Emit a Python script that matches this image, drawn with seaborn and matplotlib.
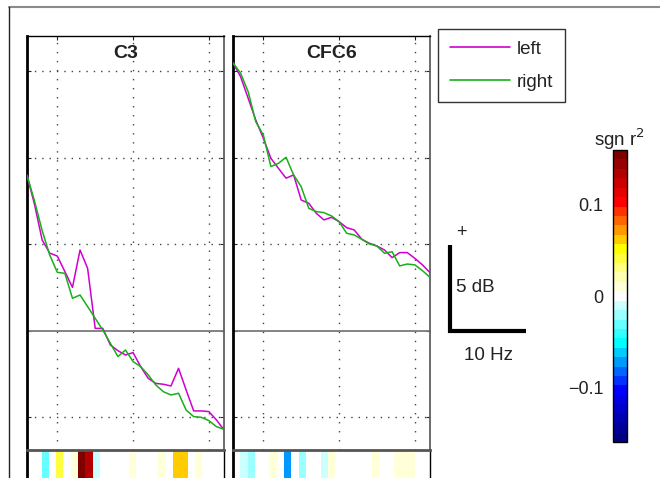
import numpy as np
import pandas as pd
import matplotlib
matplotlib.use("Agg")
import matplotlib.pyplot as plt
from matplotlib.colors import ListedColormap, Normalize
from matplotlib.cm import ScalarMappable
from matplotlib.lines import Line2D
import seaborn as sns

# ---------------- data ----------------
freqs = list(range(6, 33))  # Hz
classes = ["left", "right"]
channels = ["C3", "CFC6"]

c3_left = [9.0, 7.3, 5.26, 4.5, 4.33, 3.43, 2.52, 4.68, 3.62, 0.15, 0.15, -0.81, -1.14,
           -1.39, -1.25, -2.06, -2.74, -3.03, -3.08, -3.18, -2.16, -3.41, -4.62, -4.62,
           -4.66, -5.14, -5.72]
c3_right = [9.0, 7.5, 5.8, 4.39, 3.39, 3.33, 1.89, 2.08, 1.41, 0.73, 0.06, -0.71, -1.48,
            -1.1, -1.77, -2.06, -2.54, -3.12, -3.51, -3.7, -3.6, -4.57, -4.95, -4.99,
            -5.18, -5.53, -5.68]
cfc6_left = [15.5, 14.7, 13.45, 12.2, 11.14, 9.98, 9.4, 8.83, 9.02, 7.57, 7.38, 6.8, 6.42,
             6.57, 6.32, 5.97, 5.84, 5.3, 5.07, 4.91, 4.68, 4.24, 4.53, 4.53, 4.2, 3.82, 3.37]
cfc6_right = [15.5, 14.9, 13.83, 12.1, 11.33, 9.5, 9.69, 10.04, 9.02, 8.34, 7.09, 6.9, 6.84,
              6.65, 6.32, 5.65, 5.55, 5.3, 5.03, 4.91, 4.49, 4.58, 3.76, 3.87, 3.82, 3.49, 3.1]

# signed r^2 per frequency bin
c3_r2 = [0, 0, -0.031, 0, 0.04, 0, 0.01, 0.154, 0.133, -0.01, 0, 0, 0, 0, 0.01, 0, 0, 0,
         0.01, 0, 0.062, 0.062, 0, 0.01, 0, 0, 0]
cfc6_r2 = [0, -0.01, -0.02, 0, 0, 0.01, 0, -0.072, 0, -0.02, 0, 0, -0.01, 0.01, 0, 0, 0, 0,
           0, 0.01, 0, 0, 0.01, 0.01, 0.01, 0, 0]

r2_lim = 0.159
cbar_ticks = [-0.1, 0, 0.1]
cbar_ticklabels = ["\u22120.1", "0", "0.1"]
grid_x = [10, 20, 30]
grid_y = [-5, 0, 5, 10, 15]

cmap_colors = [
    "#000080", "#000099", "#0000B3", "#0000CC", "#0000E6", "#0000FF", "#0033FF", "#0066FF",
    "#0099FF", "#00CCFF", "#00FFFF", "#33FFFF", "#66FFFF", "#99FFFF", "#CCFFFF",
    "#FFFFFF",
    "#FFFFD8", "#FFFFB0", "#FFFF80", "#FFFF40", "#FFFF00", "#FFCC00", "#FF9900", "#FF6600",
    "#FF3300", "#FF0000", "#E60000", "#CC0000", "#B30000", "#990000", "#800000",
]

# ---------------- style ----------------
sns.set_theme(style="white")
plt.rcParams["font.family"] = ["Liberation Sans", "DejaVu Sans"]
plt.rcParams["axes.unicode_minus"] = True

W, H = 660, 478
fig = plt.figure(figsize=(W / 100, H / 100), dpi=100)

def fx(px):
    return px / W

def fy(py):
    return 1 - py / H

palette = {"left": "#D000D0", "right": "#18B018"}
cmap = ListedColormap(cmap_colors)
norm = Normalize(vmin=-r2_lim, vmax=r2_lim)

# frame lines of the figure
fig.add_artist(Line2D([fx(9), 1.0], [fy(7), fy(7)], color="#8a8a8a", lw=1.5,
                      transform=fig.transFigure))
fig.add_artist(Line2D([fx(9), fx(9)], [fy(7), 0.0], color="#222222", lw=1.0,
                      transform=fig.transFigure))

panels = [
    ("C3", 27, 224, c3_left, c3_right, c3_r2),
    ("CFC6", 233, 430, cfc6_left, cfc6_right, cfc6_r2),
]
top_px, bot_px = 36, 450
ymax, ymin = 17.05, -6.88

for name, x0, x1, lv, rv, r2 in panels:
    ax = fig.add_axes([fx(x0), fy(bot_px), fx(x1 - x0), (bot_px - top_px) / H])
    df = pd.DataFrame({
        "freq": freqs * 2,
        "power": lv + rv,
        "class": ["left"] * len(freqs) + ["right"] * len(freqs),
    })
    sns.lineplot(data=df, x="freq", y="power", hue="class", palette=palette,
                 hue_order=["left", "right"], ax=ax, legend=False, lw=1.1,
                 estimator=None, sort=False, zorder=3)
    ax.set_xlim(6, 32)
    ax.set_ylim(ymin, ymax)
    ax.set_xticks(grid_x)
    ax.set_yticks(grid_y)
    ax.set_xlabel("")
    ax.set_ylabel("")
    ax.tick_params(direction="in", length=3, width=0.8, top=True, right=True,
                   bottom=False, left=True, labelbottom=False, labelleft=False,
                   colors="#222222")
    for gx in grid_x:
        ax.axvline(gx, color="#444444", lw=1.0, ls=(0, (1, 5.5)), zorder=1)
    for gy in grid_y:
        if gy == 0:
            ax.axhline(gy, color="#7a7a7a", lw=1.3, zorder=2)
        else:
            ax.axhline(gy, color="#444444", lw=1.0, ls=(0, (1, 4.3)), zorder=1)
    for side, sp in ax.spines.items():
        sp.set_visible(True)
        sp.set_color("black")
        sp.set_linewidth(1.0)
    ax.spines["left"].set_linewidth(2.0)
    ax.spines["right"].set_color("#606060")
    ax.spines["right"].set_linewidth(1.3)
    ax.spines["bottom"].set_visible(False)
    ax.text(0.5, 1 - 18 / (bot_px - top_px), name, transform=ax.transAxes,
            ha="center", va="center", fontsize=14, fontweight="bold", color="#222222")

    # r^2 strip
    sax = fig.add_axes([fx(x0), fy(492), fx(x1 - x0), 42 / H])
    sdf = pd.DataFrame([r2], columns=freqs)
    sns.heatmap(sdf, ax=sax, cmap=cmap, vmin=-r2_lim, vmax=r2_lim, cbar=False,
                xticklabels=False, yticklabels=False)
    sax.set_xlabel("")
    sax.set_ylabel("")
    for side, sp in sax.spines.items():
        sp.set_visible(True)
        sp.set_color("black")
        sp.set_linewidth(1.0)
    sax.spines["left"].set_linewidth(2.0)
    sax.spines["top"].set_color("#555555")
    sax.spines["top"].set_linewidth(2.0)

# legend
handles = [Line2D([], [], color=palette[c], lw=1.2) for c in classes]
leg = fig.legend(handles, classes, loc="upper left",
                 bbox_to_anchor=(fx(438), fy(29)), frameon=True, fancybox=False,
                 edgecolor="black", fontsize=13.5, handlelength=3.2,
                 handletextpad=0.4, labelspacing=0.85, borderpad=0.62,
                 borderaxespad=0.0)
leg.get_frame().set_linewidth(1.0)
for t in leg.get_texts():
    t.set_color("#222222")

# scale bar axes: 10 Hz x 5 dB
bax = fig.add_axes([fx(450), fy(331), fx(76), 86 / H])
bax.set_xlim(0, 10)
bax.set_ylim(0, 5)
bax.axis("off")
bax.plot([0, 0, 10], [5, 0, 0], color="black", lw=3, clip_on=False,
         solid_joinstyle="miter", solid_capstyle="butt")
bax.text(1.55, 5.75, "+", ha="center", va="center", fontsize=13, color="#222222")
bax.text(0.75, 2.5, "5 dB", ha="left", va="center", fontsize=13.5, color="#222222")
bax.text(5.0, -1.45, "10 Hz", ha="center", va="center", fontsize=13.5, color="#222222")

# colorbar
cax = fig.add_axes([fx(613), fy(442), fx(14), 292 / H])
sm = ScalarMappable(norm=norm, cmap=cmap)
cb = fig.colorbar(sm, cax=cax, ticks=cbar_ticks)
cb.set_ticklabels(cbar_ticklabels)
cb.outline.set_edgecolor("black")
cb.outline.set_linewidth(1.0)
cax.tick_params(axis="y", left=False, right=True, labelleft=True, labelright=False,
                direction="in", length=2, width=0.8, pad=7, labelsize=13,
                labelcolor="#222222")
cax.text(0.5, 1 + 4 / 292, "sgn r$^2$", transform=cax.transAxes, ha="center",
         va="baseline", fontsize=13.5, color="#222222")

fig.savefig("out.png", dpi=100)
